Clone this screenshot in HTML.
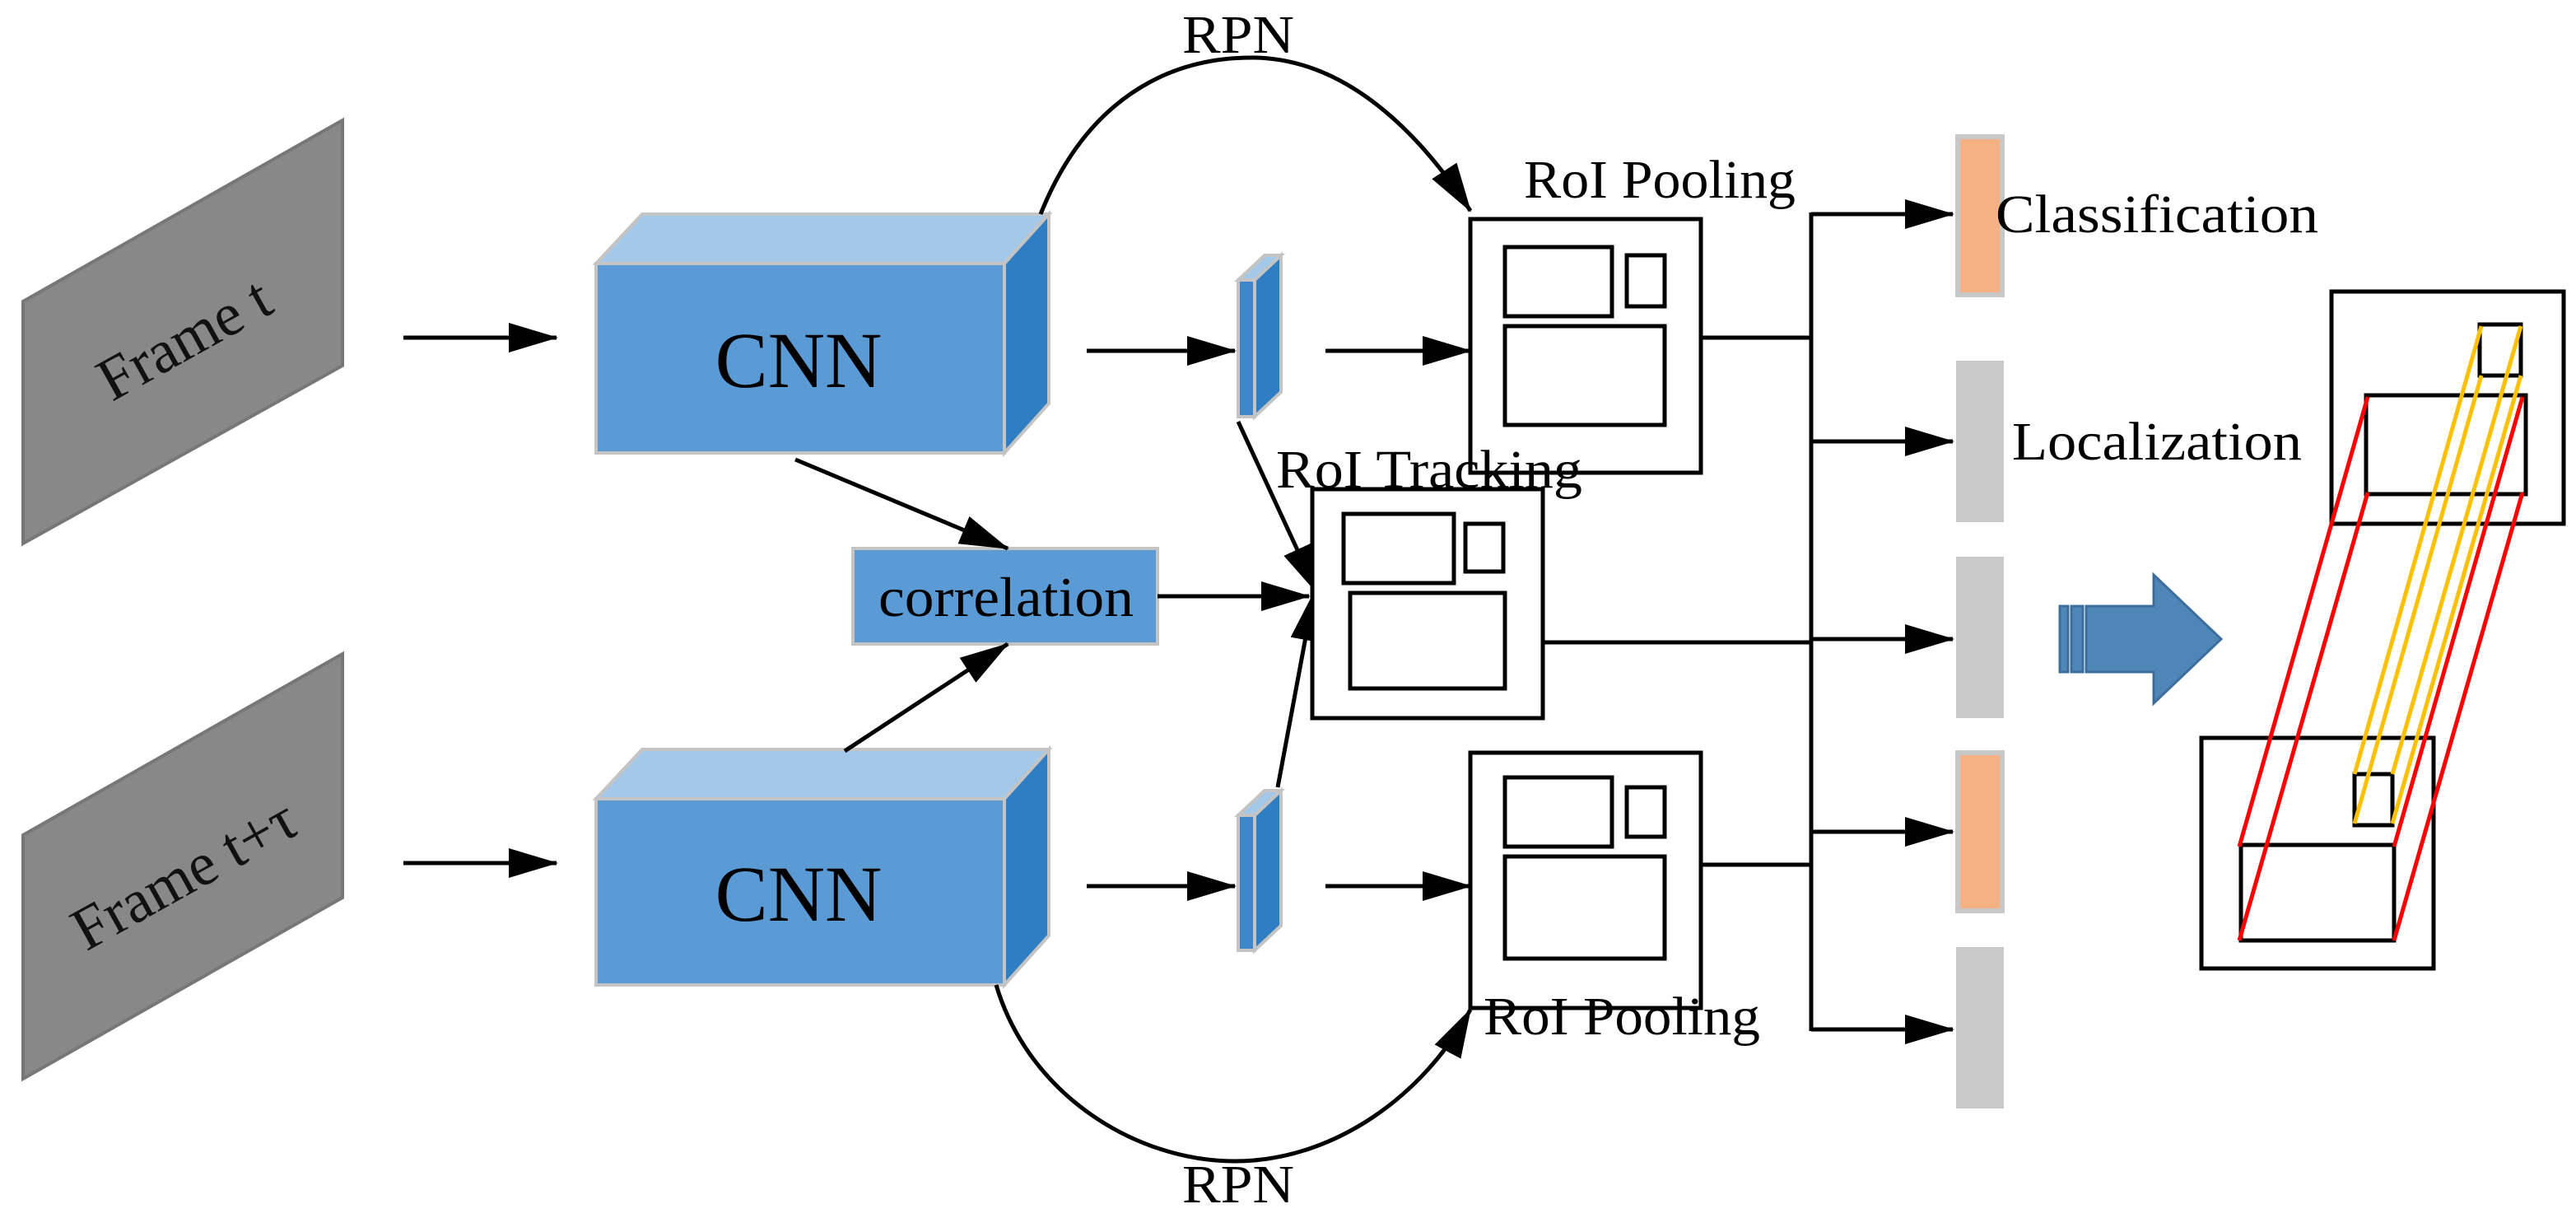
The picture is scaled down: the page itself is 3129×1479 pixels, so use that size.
<!DOCTYPE html>
<html><head><meta charset="utf-8"><style>html,body{margin:0;padding:0;background:#fff}svg{display:block}</style></head>
<body>
<svg width="3129" height="1479" viewBox="0 0 1564.5 739.5" xmlns="http://www.w3.org/2000/svg" font-family="'Liberation Serif', serif">
<defs>
<marker id="ah2" markerWidth="30" markerHeight="18" refX="29" refY="9" orient="auto" markerUnits="userSpaceOnUse" viewBox="0 0 30 18">
<path d="M0,0 L30,9 L0,18 Z" fill="#000"/></marker>
</defs>
<g stroke="#000" stroke-width="2.5" fill="none">
<polygon points="14,183 208,73 208,222 14,330" fill="#888" stroke="#777" stroke-width="2"/>
<polygon points="14,507 208,397 208,545 14,655" fill="#888" stroke="#777" stroke-width="2"/>
</g>
<text x="112" y="218" font-size="37" text-anchor="middle" transform="rotate(-29 112 206)" fill="#111">Frame t</text>
<text x="112" y="543" font-size="37" text-anchor="middle" transform="rotate(-29 112 531)" fill="#111">Frame t+τ</text>

<g stroke="#c4c4c4" stroke-width="2">
<polygon points="362,160 390,130 637,130 610,160" fill="#A4C8E8"/>
<polygon points="610,160 637,130 637,245 610,275" fill="#2F7EC4"/>
<rect x="362" y="160" width="248" height="115" fill="#5B9BD5"/>
<polygon points="362,485 390,455 637,455 610,485" fill="#A4C8E8"/>
<polygon points="610,485 637,455 637,568 610,598" fill="#2F7EC4"/>
<rect x="362" y="485" width="248" height="113" fill="#5B9BD5"/>
<rect x="518" y="333" width="185" height="58" fill="#5B9BD5"/>
<polygon points="752,170 768,155 778,155 762,170" fill="#A4C8E8"/>
<polygon points="762,170 778,155 778,238 762,253" fill="#2F7EC4"/>
<rect x="752" y="170" width="10" height="83" fill="#3d86cc"/>
<polygon points="752,495 768,480 778,480 762,495" fill="#A4C8E8"/>
<polygon points="762,495 778,480 778,562 762,577" fill="#2F7EC4"/>
<rect x="752" y="495" width="10" height="82" fill="#3d86cc"/>
</g>
<text x="485" y="235" font-size="48" text-anchor="middle">CNN</text>
<text x="485" y="559" font-size="48" text-anchor="middle">CNN</text>
<text x="611" y="374" font-size="34" text-anchor="middle" textLength="155" lengthAdjust="spacingAndGlyphs">correlation</text>

<g stroke="#000" stroke-width="2.5" fill="none">
<line x1="245" y1="205" x2="338" y2="205" marker-end="url(#ah2)"/>
<line x1="245" y1="524" x2="338" y2="524" marker-end="url(#ah2)"/>
<line x1="483" y1="279" x2="612" y2="333" marker-end="url(#ah2)"/>
<line x1="513" y1="456" x2="612" y2="391" marker-end="url(#ah2)"/>
<line x1="703" y1="362" x2="795" y2="362" marker-end="url(#ah2)"/>
<line x1="660" y1="213" x2="750" y2="213" marker-end="url(#ah2)"/>
<line x1="805" y1="213" x2="893" y2="213" marker-end="url(#ah2)"/>
<line x1="660" y1="538" x2="750" y2="538" marker-end="url(#ah2)"/>
<line x1="805" y1="538" x2="893" y2="538" marker-end="url(#ah2)"/>
<line x1="752" y1="256" x2="800" y2="360" marker-end="url(#ah2)"/>
<line x1="776" y1="478" x2="798" y2="360" marker-end="url(#ah2)"/>
<path d="M632,130 C660,60 710,35 760,35 C820,35 865,85 893,128" marker-end="url(#ah2)"/>
<path d="M605,598 C625,665 690,705 750,705 C810,705 865,665 893,613" marker-end="url(#ah2)"/>
<rect x="893" y="133" width="140" height="154"/>
<rect x="914" y="150" width="65" height="42"/><rect x="988" y="155" width="23" height="31"/><rect x="914" y="198" width="97" height="60"/>
<rect x="797" y="297" width="140" height="139" fill="#fff"/>
<rect x="816" y="312" width="67" height="42"/><rect x="890" y="318" width="23" height="29"/><rect x="820" y="360" width="94" height="58"/>
<rect x="893" y="457" width="140" height="155"/>
<rect x="914" y="472" width="65" height="42"/><rect x="988" y="478" width="23" height="30"/><rect x="914" y="520" width="97" height="62"/>
<line x1="1033" y1="205" x2="1100" y2="205"/>
<line x1="937" y1="390" x2="1100" y2="390"/>
<line x1="1033" y1="525" x2="1100" y2="525"/>
<line x1="1100" y1="129" x2="1100" y2="626"/>
<line x1="1100" y1="130" x2="1186" y2="130" marker-end="url(#ah2)"/>
<line x1="1100" y1="268" x2="1186" y2="268" marker-end="url(#ah2)"/>
<line x1="1100" y1="388" x2="1186" y2="388" marker-end="url(#ah2)"/>
<line x1="1100" y1="505" x2="1186" y2="505" marker-end="url(#ah2)"/>
<line x1="1100" y1="625" x2="1186" y2="625" marker-end="url(#ah2)"/>
</g>
<text x="752" y="32" font-size="33" text-anchor="middle" textLength="68" lengthAdjust="spacingAndGlyphs">RPN</text>
<text x="752" y="730" font-size="33" text-anchor="middle" textLength="68" lengthAdjust="spacingAndGlyphs">RPN</text>
<text x="1008" y="120" font-size="33" text-anchor="middle" textLength="165" lengthAdjust="spacingAndGlyphs">RoI Pooling</text>
<text x="868" y="296" font-size="33" text-anchor="middle" textLength="186" lengthAdjust="spacingAndGlyphs">RoI Tracking</text>
<text x="985" y="628" font-size="33" text-anchor="middle" textLength="168" lengthAdjust="spacingAndGlyphs">RoI Pooling</text>

<g stroke="#c8c8c8" stroke-width="3">
<rect x="1189" y="83" width="27" height="96" fill="#F4B183"/>
<rect x="1188" y="219" width="29" height="98" fill="#C9C9C9" stroke="none"/>
<rect x="1188" y="338" width="29" height="98" fill="#C9C9C9" stroke="none"/>
<rect x="1189" y="457" width="27" height="96" fill="#F4B183"/>
<rect x="1188" y="575" width="29" height="98" fill="#C9C9C9" stroke="none"/>
</g>
<text x="1212" y="141" font-size="33" textLength="196" lengthAdjust="spacingAndGlyphs">Classification</text>
<text x="1222" y="279" font-size="33" textLength="176" lengthAdjust="spacingAndGlyphs">Localization</text>

<g fill="#4F86B8" stroke="#3d6d9c" stroke-width="1.5">
<rect x="1251" y="368" width="5" height="40"/>
<rect x="1258" y="368" width="7" height="40"/>
<polygon points="1267,368 1308,368 1308,349 1349,388 1308,427 1308,408 1267,408"/>
</g>

<g stroke="#000" stroke-width="2.5" fill="none">
<rect x="1416" y="177" width="141" height="141"/>
<rect x="1437" y="240" width="97" height="60"/>
<rect x="1506" y="197" width="25" height="31"/>
<rect x="1337" y="448" width="141" height="140"/>
<rect x="1361" y="513" width="93" height="58"/>
<rect x="1430" y="470" width="23" height="31"/>
</g>
<g stroke="#FF0000" stroke-width="2.5">
<line x1="1438" y1="241" x2="1360" y2="514"/>
<line x1="1438" y1="299" x2="1360" y2="571"/>
<line x1="1532" y1="241" x2="1454" y2="514"/>
<line x1="1532" y1="299" x2="1454" y2="571"/>
</g>
<g stroke="#FFC000" stroke-width="2.5">
<line x1="1507" y1="198" x2="1430" y2="470"/>
<line x1="1531" y1="198" x2="1453" y2="470"/>
<line x1="1507" y1="228" x2="1430" y2="500"/>
<line x1="1531" y1="228" x2="1453" y2="500"/>
</g>
</svg>
</body></html>
